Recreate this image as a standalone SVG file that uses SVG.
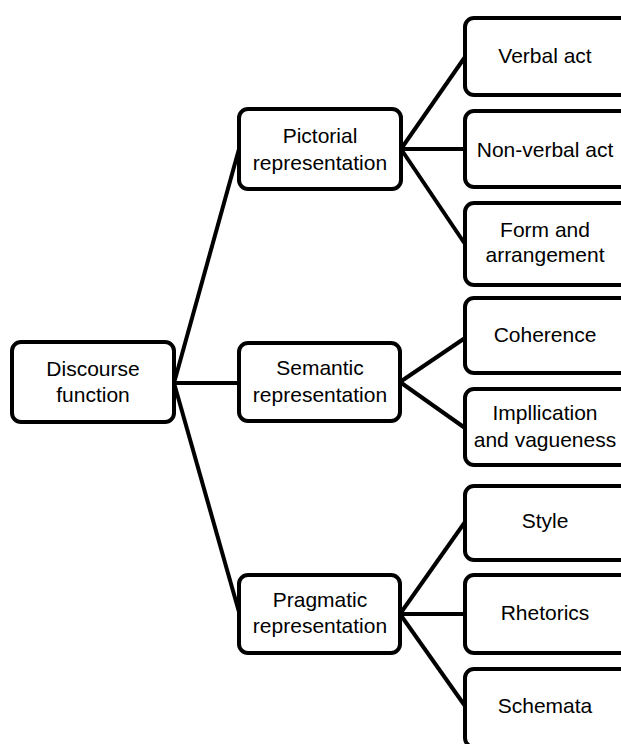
<svg xmlns="http://www.w3.org/2000/svg" width="621" height="744" viewBox="0 0 621 744">
<style>
.box{fill:#fff;stroke:#000;stroke-width:4}
.lbl{font-family:"Liberation Sans",Arial,sans-serif;font-size:21px;fill:#000;text-anchor:middle}
.con{stroke:#000;stroke-width:4;fill:none}
</style>
<rect width="621" height="744" fill="#fff"/>
<g id="connectors">
<line class="con" x1="174" y1="383" x2="239" y2="149"/>
<line class="con" x1="174" y1="383" x2="239" y2="383"/>
<line class="con" x1="174" y1="383" x2="239" y2="612"/>
<line class="con" x1="401" y1="149" x2="465" y2="57"/>
<line class="con" x1="401" y1="149" x2="465" y2="149"/>
<line class="con" x1="401" y1="149" x2="465" y2="244"/>
<line class="con" x1="400" y1="382" x2="465" y2="338"/>
<line class="con" x1="400" y1="382" x2="465" y2="428"/>
<line class="con" x1="400" y1="614" x2="465" y2="522"/>
<line class="con" x1="400" y1="614" x2="465" y2="614"/>
<line class="con" x1="400" y1="614" x2="465" y2="706"/>
</g>
<g id="discourse">
<rect class="box" x="12" y="342" width="162" height="80" rx="9"/>
<text class="lbl" x="93" y="376">Discourse</text>
<text class="lbl" x="93" y="402">function</text>
</g>
<g id="pictorial">
<rect class="box" x="239" y="109" width="162" height="80" rx="9"/>
<text class="lbl" x="320" y="143">Pictorial</text>
<text class="lbl" x="320" y="170">representation</text>
</g>
<g id="semantic">
<rect class="box" x="239" y="343" width="161" height="78" rx="9"/>
<text class="lbl" x="320" y="375">Semantic</text>
<text class="lbl" x="320" y="402">representation</text>
</g>
<g id="pragmatic">
<rect class="box" x="239" y="575" width="161" height="78" rx="9"/>
<text class="lbl" x="320" y="607">Pragmatic</text>
<text class="lbl" x="320" y="633">representation</text>
</g>
<g id="verbal">
<rect class="box" x="465" y="18" width="164" height="77" rx="9"/>
<text class="lbl" x="545" y="63">Verbal act</text>
</g>
<g id="nonverbal">
<rect class="box" x="465" y="111" width="164" height="76" rx="9"/>
<text class="lbl" x="545" y="157">Non-verbal act</text>
</g>
<g id="form">
<rect class="box" x="465" y="203" width="164" height="82" rx="9"/>
<text class="lbl" x="545" y="237">Form and</text>
<text class="lbl" x="545" y="262">arrangement</text>
</g>
<g id="coherence">
<rect class="box" x="465" y="298" width="164" height="75" rx="9"/>
<text class="lbl" x="545" y="342">Coherence</text>
</g>
<g id="implication">
<rect class="box" x="465" y="389" width="164" height="76" rx="9"/>
<text class="lbl" x="545" y="420">Impllication</text>
<text class="lbl" x="545" y="447">and vagueness</text>
</g>
<g id="style">
<rect class="box" x="465" y="486" width="164" height="74" rx="9"/>
<text class="lbl" x="545" y="528">Style</text>
</g>
<g id="rhetorics">
<rect class="box" x="465" y="575" width="164" height="78" rx="9"/>
<text class="lbl" x="545" y="620">Rhetorics</text>
</g>
<g id="schemata">
<rect class="box" x="465" y="669" width="164" height="78" rx="9"/>
<text class="lbl" x="545" y="713">Schemata</text>
</g>
</svg>
